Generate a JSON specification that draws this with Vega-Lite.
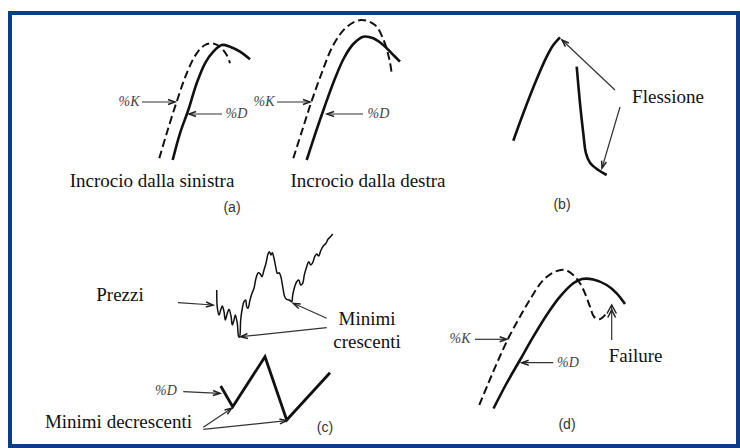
{
  "$schema": "https://vega.github.io/schema/vega-lite/v6.json",
  "width": 740,
  "height": 448,
  "autosize": {"type": "none"},
  "padding": 0,
  "background": "white",
  "config": {"view": {"stroke": null}},
  "datasets": {
    "frame": [{"x": 10, "y": 13, "x2": 738, "y2": 446}],
    "curves": [
      {"c": "aK1", "k": "K", "i": 0, "x": 159.3, "y": 158.3},
      {"c": "aK1", "k": "K", "i": 1, "x": 166.7, "y": 133.3},
      {"c": "aK1", "k": "K", "i": 2, "x": 176.7, "y": 101.7},
      {"c": "aK1", "k": "K", "i": 3, "x": 186.7, "y": 73.3},
      {"c": "aK1", "k": "K", "i": 4, "x": 196.7, "y": 53.3},
      {"c": "aK1", "k": "K", "i": 5, "x": 205, "y": 45},
      {"c": "aK1", "k": "K", "i": 6, "x": 211.7, "y": 43.3},
      {"c": "aK1", "k": "K", "i": 7, "x": 220, "y": 46.7},
      {"c": "aK1", "k": "K", "i": 8, "x": 226.7, "y": 55},
      {"c": "aK1", "k": "K", "i": 9, "x": 230, "y": 63.3},
      {"c": "aD1", "k": "D", "i": 0, "x": 172.7, "y": 160},
      {"c": "aD1", "k": "D", "i": 1, "x": 180, "y": 133.3},
      {"c": "aD1", "k": "D", "i": 2, "x": 188.3, "y": 110},
      {"c": "aD1", "k": "D", "i": 3, "x": 196.7, "y": 83.3},
      {"c": "aD1", "k": "D", "i": 4, "x": 205, "y": 63.3},
      {"c": "aD1", "k": "D", "i": 5, "x": 213.3, "y": 51.7},
      {"c": "aD1", "k": "D", "i": 6, "x": 221.7, "y": 45},
      {"c": "aD1", "k": "D", "i": 7, "x": 230, "y": 46.7},
      {"c": "aD1", "k": "D", "i": 8, "x": 240, "y": 51.7},
      {"c": "aD1", "k": "D", "i": 9, "x": 250, "y": 59.3},
      {"c": "aK2", "k": "K", "i": 0, "x": 293.3, "y": 158.3},
      {"c": "aK2", "k": "K", "i": 1, "x": 302, "y": 131},
      {"c": "aK2", "k": "K", "i": 2, "x": 311, "y": 103},
      {"c": "aK2", "k": "K", "i": 3, "x": 321, "y": 75},
      {"c": "aK2", "k": "K", "i": 4, "x": 333.3, "y": 45},
      {"c": "aK2", "k": "K", "i": 5, "x": 346.7, "y": 27},
      {"c": "aK2", "k": "K", "i": 6, "x": 361, "y": 20},
      {"c": "aK2", "k": "K", "i": 7, "x": 375, "y": 25},
      {"c": "aK2", "k": "K", "i": 8, "x": 384, "y": 41},
      {"c": "aK2", "k": "K", "i": 9, "x": 389.5, "y": 60},
      {"c": "aK2", "k": "K", "i": 10, "x": 391.7, "y": 73.3},
      {"c": "aD2", "k": "D", "i": 0, "x": 306.7, "y": 160},
      {"c": "aD2", "k": "D", "i": 1, "x": 315.5, "y": 133},
      {"c": "aD2", "k": "D", "i": 2, "x": 324.5, "y": 107},
      {"c": "aD2", "k": "D", "i": 3, "x": 334, "y": 81},
      {"c": "aD2", "k": "D", "i": 4, "x": 344, "y": 58},
      {"c": "aD2", "k": "D", "i": 5, "x": 353.3, "y": 44},
      {"c": "aD2", "k": "D", "i": 6, "x": 363.3, "y": 36.7},
      {"c": "aD2", "k": "D", "i": 7, "x": 373.3, "y": 38.3},
      {"c": "aD2", "k": "D", "i": 8, "x": 383.3, "y": 45},
      {"c": "aD2", "k": "D", "i": 9, "x": 391.7, "y": 53.3},
      {"c": "aD2", "k": "D", "i": 10, "x": 400, "y": 61.7},
      {"c": "bL", "k": "D", "i": 0, "x": 513.3, "y": 140.7},
      {"c": "bL", "k": "D", "i": 1, "x": 523.3, "y": 113.3},
      {"c": "bL", "k": "D", "i": 2, "x": 535, "y": 83.3},
      {"c": "bL", "k": "D", "i": 3, "x": 546.7, "y": 56.7},
      {"c": "bL", "k": "D", "i": 4, "x": 553.3, "y": 45},
      {"c": "bL", "k": "D", "i": 5, "x": 560, "y": 37.3},
      {"c": "bR", "k": "D", "i": 0, "x": 576.7, "y": 66.7},
      {"c": "bR", "k": "D", "i": 1, "x": 580, "y": 103.3},
      {"c": "bR", "k": "D", "i": 2, "x": 583.3, "y": 133.3},
      {"c": "bR", "k": "D", "i": 3, "x": 586, "y": 153.3},
      {"c": "bR", "k": "D", "i": 4, "x": 590, "y": 162.7},
      {"c": "bR", "k": "D", "i": 5, "x": 598.3, "y": 170},
      {"c": "bR", "k": "D", "i": 6, "x": 606.7, "y": 175},
      {"c": "dK", "k": "K", "i": 0, "x": 479.3, "y": 405},
      {"c": "dK", "k": "K", "i": 1, "x": 488.3, "y": 383.3},
      {"c": "dK", "k": "K", "i": 2, "x": 498.3, "y": 360},
      {"c": "dK", "k": "K", "i": 3, "x": 508.3, "y": 338.3},
      {"c": "dK", "k": "K", "i": 4, "x": 520, "y": 316.7},
      {"c": "dK", "k": "K", "i": 5, "x": 531.7, "y": 296.7},
      {"c": "dK", "k": "K", "i": 6, "x": 543.3, "y": 280},
      {"c": "dK", "k": "K", "i": 7, "x": 555, "y": 271.7},
      {"c": "dK", "k": "K", "i": 8, "x": 565, "y": 270},
      {"c": "dK", "k": "K", "i": 9, "x": 573.3, "y": 275},
      {"c": "dK", "k": "K", "i": 10, "x": 580, "y": 283.3},
      {"c": "dK", "k": "K", "i": 11, "x": 585, "y": 293.3},
      {"c": "dK", "k": "K", "i": 12, "x": 590, "y": 306.7},
      {"c": "dK", "k": "K", "i": 13, "x": 594, "y": 316.7},
      {"c": "dK", "k": "K", "i": 14, "x": 599.3, "y": 319.3},
      {"c": "dK", "k": "K", "i": 15, "x": 603.3, "y": 316.7},
      {"c": "dK", "k": "K", "i": 16, "x": 606.7, "y": 313.3},
      {"c": "dD", "k": "D", "i": 0, "x": 493.5, "y": 408.5},
      {"c": "dD", "k": "D", "i": 1, "x": 506.5, "y": 383.5},
      {"c": "dD", "k": "D", "i": 2, "x": 520, "y": 360},
      {"c": "dD", "k": "D", "i": 3, "x": 533.3, "y": 336.7},
      {"c": "dD", "k": "D", "i": 4, "x": 546.7, "y": 315},
      {"c": "dD", "k": "D", "i": 5, "x": 560, "y": 296.7},
      {"c": "dD", "k": "D", "i": 6, "x": 573.3, "y": 283.3},
      {"c": "dD", "k": "D", "i": 7, "x": 582, "y": 279},
      {"c": "dD", "k": "D", "i": 8, "x": 593.3, "y": 279.5},
      {"c": "dD", "k": "D", "i": 9, "x": 606.7, "y": 285},
      {"c": "dD", "k": "D", "i": 10, "x": 616.7, "y": 293.3},
      {"c": "dD", "k": "D", "i": 11, "x": 625, "y": 304},
      {"c": "cD", "k": "Z", "i": 0, "x": 220.7, "y": 386},
      {"c": "cD", "k": "Z", "i": 1, "x": 232.7, "y": 406.7},
      {"c": "cD", "k": "Z", "i": 2, "x": 265, "y": 356.7},
      {"c": "cD", "k": "Z", "i": 3, "x": 286.7, "y": 420},
      {"c": "cD", "k": "Z", "i": 4, "x": 330, "y": 372.7}
    ],
    "price": [
      {"i": 0, "x": 216.7, "y": 290},
      {"i": 1, "x": 217.3, "y": 307.3},
      {"i": 2, "x": 219, "y": 315},
      {"i": 3, "x": 220.7, "y": 310},
      {"i": 4, "x": 222.3, "y": 306},
      {"i": 5, "x": 224, "y": 311.7},
      {"i": 6, "x": 225.3, "y": 320},
      {"i": 7, "x": 227.3, "y": 313.3},
      {"i": 8, "x": 229, "y": 309.3},
      {"i": 9, "x": 231, "y": 316},
      {"i": 10, "x": 232.3, "y": 325},
      {"i": 11, "x": 234, "y": 320},
      {"i": 12, "x": 235.3, "y": 315},
      {"i": 13, "x": 237.3, "y": 323.3},
      {"i": 14, "x": 238.7, "y": 336.7},
      {"i": 15, "x": 239.5, "y": 337},
      {"i": 16, "x": 240.7, "y": 320},
      {"i": 17, "x": 242, "y": 310},
      {"i": 18, "x": 244, "y": 301.7},
      {"i": 19, "x": 245.7, "y": 300},
      {"i": 20, "x": 246.7, "y": 306.7},
      {"i": 21, "x": 248, "y": 308.3},
      {"i": 22, "x": 250, "y": 300},
      {"i": 23, "x": 252, "y": 293.3},
      {"i": 24, "x": 254, "y": 288.3},
      {"i": 25, "x": 256, "y": 278.3},
      {"i": 26, "x": 258.3, "y": 272.7},
      {"i": 27, "x": 260.3, "y": 274},
      {"i": 28, "x": 262, "y": 276.7},
      {"i": 29, "x": 264, "y": 270},
      {"i": 30, "x": 266, "y": 263.3},
      {"i": 31, "x": 268, "y": 254},
      {"i": 32, "x": 269.3, "y": 251.7},
      {"i": 33, "x": 271, "y": 255},
      {"i": 34, "x": 272.3, "y": 252.7},
      {"i": 35, "x": 274, "y": 258.3},
      {"i": 36, "x": 275.7, "y": 266.7},
      {"i": 37, "x": 277.3, "y": 273.3},
      {"i": 38, "x": 279, "y": 272.7},
      {"i": 39, "x": 280.7, "y": 276},
      {"i": 40, "x": 282.7, "y": 286.7},
      {"i": 41, "x": 284.7, "y": 296.7},
      {"i": 42, "x": 286.7, "y": 299.3},
      {"i": 43, "x": 289.3, "y": 300},
      {"i": 44, "x": 291.7, "y": 301.7},
      {"i": 45, "x": 292.7, "y": 295},
      {"i": 46, "x": 294.7, "y": 286.7},
      {"i": 47, "x": 296.7, "y": 281.7},
      {"i": 48, "x": 298.7, "y": 280},
      {"i": 49, "x": 300.7, "y": 285},
      {"i": 50, "x": 302.7, "y": 283.3},
      {"i": 51, "x": 304.3, "y": 275},
      {"i": 52, "x": 306.7, "y": 266.7},
      {"i": 53, "x": 308.7, "y": 261.7},
      {"i": 54, "x": 310.7, "y": 265},
      {"i": 55, "x": 312.7, "y": 262.7},
      {"i": 56, "x": 314.7, "y": 256.7},
      {"i": 57, "x": 316.7, "y": 254},
      {"i": 58, "x": 318.7, "y": 256},
      {"i": 59, "x": 320.7, "y": 250.7},
      {"i": 60, "x": 323.3, "y": 246},
      {"i": 61, "x": 326, "y": 243.3},
      {"i": 62, "x": 328, "y": 239.3},
      {"i": 63, "x": 330, "y": 237.3},
      {"i": 64, "x": 332.7, "y": 234}
    ],
    "arrows": [
      {"a": "aK1", "x": 142, "y": 102, "x2": 175, "y2": 102},
      {"a": "aD1", "x": 222, "y": 114, "x2": 189, "y2": 114},
      {"a": "aK2", "x": 277, "y": 102, "x2": 310, "y2": 102},
      {"a": "aD2", "x": 363, "y": 114, "x2": 327, "y2": 114},
      {"a": "b1", "x": 615, "y": 90, "x2": 562, "y2": 40},
      {"a": "b2", "x": 620, "y": 107, "x2": 602, "y2": 168},
      {"a": "pr", "x": 178, "y": 302.7, "x2": 213, "y2": 305},
      {"a": "mc1", "x": 326.7, "y": 318.3, "x2": 293.3, "y2": 303.3},
      {"a": "mc2", "x": 326.7, "y": 327.7, "x2": 240.7, "y2": 336.7},
      {"a": "cD", "x": 183.3, "y": 391.7, "x2": 220, "y2": 393.3},
      {"a": "md1", "x": 203.3, "y": 427.3, "x2": 231.7, "y2": 408.3},
      {"a": "md2", "x": 203.3, "y": 429.3, "x2": 286.7, "y2": 420.7},
      {"a": "dK", "x": 475, "y": 339.3, "x2": 506.7, "y2": 339.3},
      {"a": "dD", "x": 553.3, "y": 362.7, "x2": 521.7, "y2": 362.7},
      {"a": "fail", "x": 611.7, "y": 340, "x2": 611.7, "y2": 305}
    ],
    "heads": [
      {"h": "aK1", "i": 0, "x": 168, "y": 99.5}, {"h": "aK1", "i": 1, "x": 175, "y": 102}, {"h": "aK1", "i": 2, "x": 168, "y": 104.5},
      {"h": "aD1", "i": 0, "x": 196, "y": 111.5}, {"h": "aD1", "i": 1, "x": 189, "y": 114}, {"h": "aD1", "i": 2, "x": 196, "y": 116.5},
      {"h": "aK2", "i": 0, "x": 303, "y": 99.5}, {"h": "aK2", "i": 1, "x": 310, "y": 102}, {"h": "aK2", "i": 2, "x": 303, "y": 104.5},
      {"h": "aD2", "i": 0, "x": 334, "y": 111.5}, {"h": "aD2", "i": 1, "x": 327, "y": 114}, {"h": "aD2", "i": 2, "x": 334, "y": 116.5},
      {"h": "b1", "i": 0, "x": 568.8, "y": 43}, {"h": "b1", "i": 1, "x": 562, "y": 40}, {"h": "b1", "i": 2, "x": 565.4, "y": 46.6},
      {"h": "b2", "i": 0, "x": 606.4, "y": 162}, {"h": "b2", "i": 1, "x": 602, "y": 168}, {"h": "b2", "i": 2, "x": 601.6, "y": 160.6},
      {"h": "pr", "i": 0, "x": 206.2, "y": 302}, {"h": "pr", "i": 1, "x": 213, "y": 305}, {"h": "pr", "i": 2, "x": 205.8, "y": 307},
      {"h": "mc1", "i": 0, "x": 300.7, "y": 303.9}, {"h": "mc1", "i": 1, "x": 293.3, "y": 303.3}, {"h": "mc1", "i": 2, "x": 298.7, "y": 308.5},
      {"h": "mc2", "i": 0, "x": 247.4, "y": 333.5}, {"h": "mc2", "i": 1, "x": 240.7, "y": 336.7}, {"h": "mc2", "i": 2, "x": 247.9, "y": 338.5},
      {"h": "cD", "i": 0, "x": 213.1, "y": 390.5}, {"h": "cD", "i": 1, "x": 220, "y": 393.3}, {"h": "cD", "i": 2, "x": 212.9, "y": 395.5},
      {"h": "md1", "i": 0, "x": 227.3, "y": 414.3}, {"h": "md1", "i": 1, "x": 231.7, "y": 408.3}, {"h": "md1", "i": 2, "x": 224.5, "y": 410.1},
      {"h": "md2", "i": 0, "x": 279.9, "y": 423.9}, {"h": "md2", "i": 1, "x": 286.7, "y": 420.7}, {"h": "md2", "i": 2, "x": 279.4, "y": 418.9},
      {"h": "dK", "i": 0, "x": 499.7, "y": 336.8}, {"h": "dK", "i": 1, "x": 506.7, "y": 339.3}, {"h": "dK", "i": 2, "x": 499.7, "y": 341.8},
      {"h": "dD", "i": 0, "x": 528.7, "y": 360.2}, {"h": "dD", "i": 1, "x": 521.7, "y": 362.7}, {"h": "dD", "i": 2, "x": 528.7, "y": 365.2},
      {"h": "f1", "i": 0, "x": 607, "y": 313.5}, {"h": "f1", "i": 1, "x": 611.7, "y": 305}, {"h": "f1", "i": 2, "x": 616.4, "y": 313.5},
      {"h": "f2", "i": 0, "x": 607.8, "y": 317.5}, {"h": "f2", "i": 1, "x": 611.7, "y": 310}, {"h": "f2", "i": 2, "x": 615.6, "y": 317.5}
    ],
    "labels": [
      {"t": "Incrocio dalla sinistra", "k": "big", "x": 152, "y": 181},
      {"t": "Incrocio dalla destra", "k": "big", "x": 368, "y": 181},
      {"t": "Flessione", "k": "big", "x": 668, "y": 97},
      {"t": "Prezzi", "k": "big", "x": 120, "y": 295},
      {"t": "Minimi", "k": "big", "x": 367, "y": 319},
      {"t": "crescenti", "k": "big", "x": 367, "y": 342},
      {"t": "Minimi decrescenti", "k": "big", "x": 118.5, "y": 422},
      {"t": "Failure", "k": "big", "x": 635.6, "y": 356},
      {"t": "%K", "k": "small", "x": 129, "y": 102},
      {"t": "%D", "k": "small", "x": 236.5, "y": 114},
      {"t": "%K", "k": "small", "x": 264, "y": 102},
      {"t": "%D", "k": "small", "x": 378.5, "y": 114},
      {"t": "%D", "k": "small", "x": 166, "y": 391},
      {"t": "%K", "k": "small", "x": 460, "y": 339},
      {"t": "%D", "k": "small", "x": 568, "y": 363},
      {"t": "(a)", "k": "panel", "x": 232, "y": 208},
      {"t": "(b)", "k": "panel", "x": 562, "y": 205},
      {"t": "(c)", "k": "panel", "x": 325, "y": 428},
      {"t": "(d)", "k": "panel", "x": 567, "y": 425}
    ]
  },
  "encoding": {
    "x": {"field": "x", "type": "quantitative", "scale": {"domain": [0, 740], "nice": false, "zero": false}, "axis": null},
    "y": {"field": "y", "type": "quantitative", "scale": {"domain": [0, 448], "nice": false, "zero": false, "reverse": true}, "axis": null}
  },
  "layer": [
    {
      "data": {"name": "frame"},
      "mark": {"type": "rect", "filled": false, "stroke": "#0d3d8a", "strokeWidth": 4},
      "encoding": {"x2": {"field": "x2"}, "y2": {"field": "y2"}}
    },
    {
      "data": {"name": "curves"},
      "transform": [{"filter": "datum.k === 'K'"}],
      "mark": {"type": "line", "color": "#111", "strokeWidth": 2, "strokeDash": [8, 4], "interpolate": "catmull-rom"},
      "encoding": {"detail": {"field": "c"}, "order": {"field": "i", "type": "quantitative"}}
    },
    {
      "data": {"name": "curves"},
      "transform": [{"filter": "datum.k === 'D'"}],
      "mark": {"type": "line", "color": "#111", "strokeWidth": 2.6, "interpolate": "catmull-rom"},
      "encoding": {"detail": {"field": "c"}, "order": {"field": "i", "type": "quantitative"}}
    },
    {
      "data": {"name": "curves"},
      "transform": [{"filter": "datum.k === 'Z'"}],
      "mark": {"type": "line", "color": "#111", "strokeWidth": 2.8, "strokeJoin": "miter"},
      "encoding": {"detail": {"field": "c"}, "order": {"field": "i", "type": "quantitative"}}
    },
    {
      "data": {"name": "price"},
      "mark": {"type": "line", "color": "#111", "strokeWidth": 1.5, "interpolate": "catmull-rom"},
      "encoding": {"order": {"field": "i", "type": "quantitative"}}
    },
    {
      "data": {"name": "arrows"},
      "mark": {"type": "rule", "color": "#333", "strokeWidth": 1.2},
      "encoding": {"x2": {"field": "x2"}, "y2": {"field": "y2"}}
    },
    {
      "data": {"name": "heads"},
      "mark": {"type": "line", "color": "#222", "strokeWidth": 1.5},
      "encoding": {"detail": {"field": "h"}, "order": {"field": "i", "type": "quantitative"}}
    },
    {
      "data": {"name": "labels"},
      "transform": [{"filter": "datum.k === 'big'"}],
      "mark": {"type": "text", "font": "Liberation Serif", "fontSize": 19, "align": "center", "baseline": "middle", "color": "#111"},
      "encoding": {"text": {"field": "t"}}
    },
    {
      "data": {"name": "labels"},
      "transform": [{"filter": "datum.k === 'small'"}],
      "mark": {"type": "text", "font": "Liberation Serif", "fontStyle": "italic", "fontSize": 14, "align": "center", "baseline": "middle", "color": "#444"},
      "encoding": {"text": {"field": "t"}}
    },
    {
      "data": {"name": "labels"},
      "transform": [{"filter": "datum.k === 'panel'"}],
      "mark": {"type": "text", "font": "Liberation Sans", "fontSize": 14, "align": "center", "baseline": "middle", "color": "#333"},
      "encoding": {"text": {"field": "t"}}
    }
  ]
}
